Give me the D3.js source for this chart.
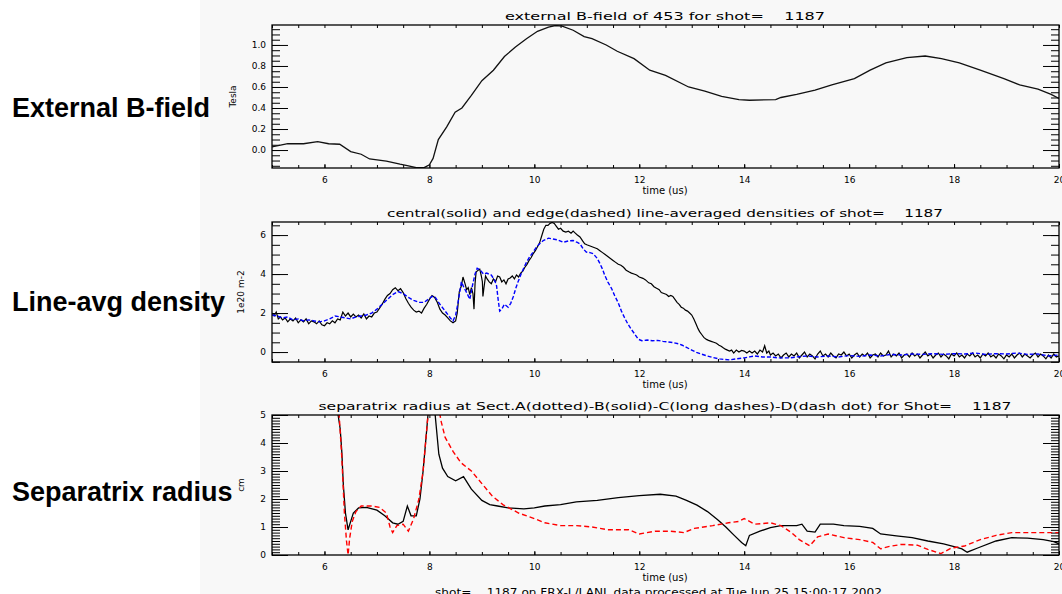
<!DOCTYPE html>
<html>
<head>
<meta charset="utf-8">
<script src="https://cdn.jsdelivr.net/npm/d3@7"></script>
<style>
  body { margin: 0; background: #fff; }
  svg text { font-family: "DejaVu Sans", sans-serif; white-space: pre; }
  .side { font-family: "Liberation Sans", Arial, sans-serif; font-weight: bold; font-size: 27px; }
</style>
</head>
<body>
<svg width="1062" height="594"></svg>
<script>
// ---- data ----
var timeTicks = [6, 8, 10, 12, 14, 16, 18, 20];
var sideLabels = ["External B-field", "Line-avg density", "Separatrix radius"];
var titles = [
  "external B-field of 453 for shot=    1187",
  "central(solid) and edge(dashed) line-averaged densities of shot=    1187",
  "separatrix radius at Sect.A(dotted)-B(solid)-C(long dashes)-D(dash dot) for Shot=    1187"
];
var footer = "shot=    1187 on FRX-L/LANL data processed at Tue Jun 25 15:00:17 2002";

// external B-field (Tesla)
var bField = [[5,0.03],[5.3,0.06],[5.6,0.06],[5.87,0.08],[6.08,0.06],[6.29,0.055],[6.5,-0.015],
  [6.7,-0.04],[6.86,-0.085],[7.18,-0.105],[7.44,-0.135],[7.6,-0.15],[7.75,-0.168],[7.9,-0.168],
  [8.0,-0.14],[8.07,-0.08],[8.17,0.1],[8.33,0.22],[8.49,0.36],[8.62,0.4],[8.8,0.52],[9.0,0.66],
  [9.22,0.76],[9.43,0.89],[9.64,0.98],[9.85,1.06],[10.06,1.13],[10.27,1.17],[10.4,1.185],[10.53,1.18],
  [10.74,1.14],[10.95,1.08],[11.1,1.06],[11.37,1.0],[11.58,0.94],[11.9,0.87],[12.2,0.76],[12.5,0.71],
  [12.94,0.6],[13.25,0.56],[13.57,0.51],[13.9,0.48],[14.1,0.474],[14.6,0.48],[14.7,0.5],[15.0,0.53],
  [15.35,0.57],[15.67,0.62],[16.1,0.68],[16.4,0.76],[16.7,0.83],[17.1,0.88],[17.45,0.895],[17.76,0.87],
  [18.1,0.83],[18.5,0.76],[18.95,0.68],[19.25,0.62],[19.6,0.58],[19.85,0.53],[20,0.49]];

// central line-averaged density (1e20 m-2), solid black
var densCentral = [[5,2.0],[5.04,1.85],[5.08,2.05],[5.12,1.7],[5.16,1.8],[5.2,1.65],[5.25,1.75],[5.3,1.55],
  [5.35,1.7],[5.4,1.6],[5.45,1.75],[5.5,1.5],[5.55,1.65],[5.6,1.55],[5.65,1.7],[5.7,1.45],[5.75,1.6],
  [5.8,1.55],[5.85,1.45],[5.9,1.6],[5.95,1.4],[6.0,1.35],[6.05,1.5],[6.1,1.45],[6.15,1.6],[6.2,1.5],
  [6.25,1.7],[6.3,1.65],[6.35,2.05],[6.4,1.85],[6.45,2.0],[6.5,1.8],[6.55,1.95],[6.6,1.8],[6.65,1.9],
  [6.7,1.75],[6.75,1.95],[6.8,1.7],[6.85,1.85],[6.9,1.8],[6.95,2.0],[7.0,2.05],[7.05,2.25],[7.1,2.45],
  [7.15,2.7],[7.2,2.9],[7.25,3.0],[7.3,3.2],[7.35,3.3],[7.4,3.15],[7.45,3.25],[7.5,3.05],[7.55,2.75],
  [7.6,2.5],[7.65,2.3],[7.7,2.15],[7.75,2.05],[7.8,2.1],[7.85,2.0],[7.9,2.25],[7.95,2.45],[8.0,2.7],
  [8.05,2.9],[8.1,2.8],[8.15,2.55],[8.2,2.2],[8.25,2.0],[8.3,1.9],[8.35,1.75],[8.4,1.6],[8.45,1.5],
  [8.5,1.6],[8.53,2.0],[8.57,3.1],[8.61,3.4],[8.64,3.85],[8.68,3.5],[8.71,3.2],[8.74,3.3],[8.77,2.95],
  [8.8,3.3],[8.83,3.0],[8.85,2.2],[8.87,3.5],[8.89,4.1],[8.93,4.2],[8.96,4.25],[8.99,3.9],[9.01,3.6],
  [9.02,2.85],[9.04,3.3],[9.07,3.9],[9.1,3.75],[9.14,3.6],[9.18,3.5],[9.22,3.75],[9.26,3.6],[9.3,3.9],
  [9.34,3.85],[9.38,3.6],[9.42,3.7],[9.46,3.5],[9.5,3.75],[9.54,3.8],[9.58,3.9],[9.62,3.75],[9.66,3.95],
  [9.7,3.85],[9.74,4.05],[9.78,4.15],[9.82,4.35],[9.86,4.5],[9.9,4.7],[9.94,4.85],[9.98,5.05],[10.02,5.2],
  [10.06,5.4],[10.1,5.6],[10.14,5.95],[10.18,6.3],[10.22,6.5],[10.26,6.5],[10.3,6.6],[10.34,6.65],
  [10.38,6.6],[10.42,6.45],[10.46,6.3],[10.5,6.35],[10.55,6.2],[10.6,6.15],[10.65,6.2],[10.7,6.1],
  [10.74,6.2],[10.78,6.1],[10.82,6.0],[10.87,5.9],[10.92,5.7],[10.96,5.55],[11.0,5.5],[11.05,5.45],
  [11.1,5.4],[11.15,5.35],[11.2,5.3],[11.25,5.2],[11.3,5.1],[11.35,5.0],[11.4,4.9],[11.45,4.8],[11.5,4.7],
  [11.55,4.6],[11.6,4.5],[11.65,4.45],[11.7,4.35],[11.75,4.2],[11.8,4.12],[11.85,4.05],[11.9,4.0],
  [11.95,3.95],[12.0,3.85],[12.07,3.78],[12.12,3.7],[12.18,3.55],[12.23,3.5],[12.28,3.35],[12.33,3.27],
  [12.38,3.2],[12.42,3.05],[12.47,3.0],[12.52,2.95],[12.56,2.85],[12.6,2.9],[12.64,2.85],[12.68,2.7],
  [12.72,2.55],[12.76,2.45],[12.8,2.3],[12.84,2.25],[12.88,2.15],[12.92,2.1],[12.96,2.0],[13.0,1.9],
  [13.04,1.7],[13.08,1.45],[13.12,1.2],[13.15,1.05],[13.19,0.9],[13.23,0.75],[13.28,0.65],[13.32,0.6],
  [13.37,0.55],[13.42,0.5],[13.47,0.45],[13.52,0.35],[13.56,0.3],[13.6,0.22],[13.64,0.15],[13.68,0.1],
  [13.72,0.05],[13.76,0.1],[13.8,-0.05],[13.85,0.1],[13.9,0.0],[13.95,0.08],[14.0,0.05],[14.05,-0.05],
  [14.1,0.05],[14.15,-0.05],[14.2,0.05],[14.25,-0.1],[14.3,0.1],[14.35,0.0],[14.39,0.32],[14.43,-0.05],
  [14.47,0.05],[14.5,-0.15],[14.55,-0.05],[14.6,-0.2],[14.65,-0.1],[14.7,-0.3],[14.75,-0.15],[14.8,-0.05],
  [14.85,-0.25],[14.9,-0.1],[14.95,-0.2],[15.0,-0.05],[15.05,-0.3],[15.1,-0.15],[15.15,0.0],[15.2,-0.25],
  [15.25,-0.1],[15.3,-0.2],[15.35,-0.35],[15.4,-0.1],[15.45,0.05],[15.5,-0.2],[15.55,-0.1],[15.6,-0.25],
  [15.65,-0.05],[15.7,-0.2],[15.75,-0.3],[15.8,-0.1],[15.85,-0.15],[15.9,0.0],[15.95,-0.2],[16.0,-0.1],
  [16.05,-0.3],[16.1,-0.15],[16.15,-0.05],[16.2,-0.25],[16.25,-0.1],[16.3,-0.2],[16.35,-0.05],[16.4,-0.3],
  [16.45,-0.15],[16.5,-0.1],[16.55,-0.25],[16.6,-0.05],[16.65,-0.2],[16.7,-0.15],[16.75,0.05],[16.8,-0.25],
  [16.85,-0.1],[16.9,-0.2],[16.95,-0.05],[17.0,-0.3],[17.05,-0.15],[17.1,-0.1],[17.15,-0.25],[17.2,-0.05],
  [17.25,-0.2],[17.3,-0.1],[17.35,-0.3],[17.4,-0.15],[17.45,0.0],[17.5,-0.2],[17.55,-0.1],[17.6,-0.3],
  [17.65,-0.15],[17.7,-0.05],[17.75,-0.25],[17.8,-0.1],[17.85,-0.2],[17.9,-0.35],[17.95,-0.1],[18.0,-0.2],
  [18.05,-0.05],[18.1,-0.25],[18.15,-0.15],[18.2,-0.3],[18.25,-0.1],[18.3,-0.2],[18.35,-0.05],[18.4,-0.25],
  [18.45,-0.15],[18.5,-0.3],[18.55,-0.1],[18.6,-0.2],[18.65,-0.05],[18.7,-0.25],[18.75,-0.15],[18.8,-0.3],
  [18.85,-0.1],[18.9,-0.2],[18.95,-0.35],[19.0,-0.15],[19.05,-0.25],[19.1,-0.1],[19.15,-0.3],[19.2,-0.15],
  [19.25,-0.05],[19.3,-0.25],[19.35,-0.1],[19.4,-0.2],[19.45,-0.3],[19.5,-0.15],[19.55,-0.05],[19.6,-0.25],
  [19.65,-0.1],[19.7,-0.2],[19.75,-0.35],[19.8,-0.15],[19.85,-0.3],[19.9,-0.1],[19.95,-0.25],[20.0,-0.2]];

// edge line-averaged density, dashed blue
var densEdge = [[5.0,1.9],[5.1,1.85],[5.2,1.75],[5.3,1.8],[5.4,1.65],[5.5,1.7],[5.6,1.6],[5.7,1.65],
  [5.8,1.6],[5.9,1.55],[6.0,1.6],[6.1,1.7],[6.2,1.85],[6.3,1.8],[6.4,1.75],[6.5,1.7],[6.6,1.8],[6.7,1.85],
  [6.8,1.9],[6.9,2.0],[7.0,2.2],[7.1,2.45],[7.2,2.7],[7.3,2.95],[7.4,3.1],[7.5,3.0],[7.6,2.8],[7.7,2.65],
  [7.8,2.55],[7.9,2.55],[8.0,2.75],[8.05,2.85],[8.1,2.85],[8.2,2.45],[8.3,2.1],[8.4,1.75],[8.45,1.6],
  [8.5,1.9],[8.54,2.45],[8.61,3.6],[8.66,3.3],[8.72,3.0],[8.77,2.7],[8.82,3.4],[8.87,4.0],[8.91,4.3],
  [8.97,4.2],[9.03,4.0],[9.09,4.05],[9.18,3.95],[9.24,3.7],[9.28,3.4],[9.31,2.7],[9.34,2.1],[9.38,2.2],
  [9.43,2.45],[9.5,2.3],[9.55,2.5],[9.6,2.85],[9.65,3.3],[9.69,3.6],[9.74,3.95],[9.78,4.2],[9.84,4.55],
  [9.91,4.88],[9.97,5.1],[10.04,5.38],[10.1,5.55],[10.17,5.72],[10.27,5.84],[10.35,5.8],[10.45,5.75],
  [10.55,5.63],[10.65,5.7],[10.74,5.72],[10.82,5.62],[10.87,5.55],[10.93,5.3],[10.99,5.13],[11.06,5.1],
  [11.12,5.05],[11.2,4.8],[11.25,4.54],[11.3,4.25],[11.34,3.95],[11.4,3.6],[11.47,3.27],[11.53,2.9],
  [11.6,2.52],[11.66,2.1],[11.72,1.76],[11.78,1.45],[11.85,1.16],[11.92,0.9],[11.98,0.66],[12.05,0.58],
  [12.15,0.62],[12.25,0.58],[12.35,0.6],[12.45,0.55],[12.55,0.52],[12.65,0.48],[12.75,0.42],[12.82,0.35],
  [12.9,0.24],[13.0,0.1],[13.09,-0.02],[13.18,-0.1],[13.28,-0.19],[13.4,-0.28],[13.53,-0.35],[13.62,-0.38],
  [13.72,-0.4],[13.85,-0.35],[14.0,-0.3],[14.1,-0.25],[14.2,-0.2],[14.35,-0.25],[14.5,-0.25],[14.65,-0.3],
  [14.87,-0.3],[15.0,-0.25],[15.2,-0.2],[15.4,-0.25],[15.6,-0.2],[15.8,-0.25],[16.0,-0.18],[16.2,-0.22],
  [16.4,-0.15],[16.6,-0.2],[16.8,-0.12],[17.0,-0.15],[17.2,-0.1],[17.4,-0.12],[17.6,-0.08],[17.8,-0.12],
  [18.0,-0.08],[18.2,-0.1],[18.4,-0.05],[18.6,-0.12],[18.8,-0.08],[19.0,-0.1],[19.2,-0.05],[19.4,-0.12],
  [19.6,-0.1],[19.8,-0.2],[20.0,-0.15]];

// separatrix radius (cm), sector B solid black
var sepB = [[6.2,6.5],[6.26,5.0],[6.3,4.5],[6.33,3.7],[6.36,2.5],[6.4,1.5],[6.45,0.9],[6.5,1.2],[6.55,1.5],
  [6.65,1.68],[6.8,1.7],[7.0,1.6],[7.15,1.4],[7.3,1.15],[7.4,1.1],[7.5,1.2],[7.58,1.75],[7.65,1.4],
  [7.75,1.4],[7.82,2.0],[7.88,3.0],[7.95,4.5],[8.0,5.6],[8.08,5.6],[8.13,4.6],[8.18,3.6],[8.25,3.1],
  [8.35,2.8],[8.5,2.65],[8.65,2.8],[8.8,2.35],[9.0,1.95],[9.15,1.8],[9.3,1.75],[9.5,1.68],[9.8,1.65],
  [10.0,1.68],[10.2,1.75],[10.5,1.8],[10.8,1.9],[11.2,1.95],[11.6,2.05],[12.0,2.12],[12.4,2.17],[12.7,2.1],
  [12.9,1.95],[13.1,1.78],[13.3,1.55],[13.5,1.25],[13.65,1.0],[13.8,0.72],[13.95,0.45],[14.03,0.33],
  [14.1,0.7],[14.3,0.85],[14.5,0.98],[14.7,1.05],[15.0,1.05],[15.1,1.1],[15.2,0.85],[15.35,0.82],
  [15.45,1.1],[15.7,1.1],[15.9,1.05],[16.2,1.02],[16.45,0.95],[16.6,0.75],[16.9,0.68],[17.2,0.62],
  [17.5,0.5],[17.8,0.4],[18.0,0.3],[18.15,0.22],[18.25,0.1],[18.45,0.25],[18.8,0.5],[19.1,0.62],
  [19.4,0.6],[19.7,0.55],[19.9,0.48],[20.0,0.4]];

// separatrix radius, dashed red
var sepC = [[6.2,6.5],[6.28,5.0],[6.33,3.5],[6.38,1.5],[6.42,0.5],[6.45,0.0],[6.48,0.6],[6.53,1.2],
  [6.6,1.55],[6.7,1.75],[6.9,1.75],[7.05,1.7],[7.18,1.5],[7.25,1.0],[7.3,0.8],[7.38,1.05],[7.5,1.1],
  [7.6,0.85],[7.7,1.3],[7.8,2.0],[7.88,3.0],[7.95,4.5],[8.0,5.6],[8.15,5.6],[8.22,4.8],[8.3,4.2],
  [8.45,3.7],[8.6,3.3],[8.8,3.0],[9.0,2.55],[9.2,2.1],[9.4,1.8],[9.7,1.5],[10.0,1.3],[10.2,1.15],
  [10.5,1.05],[10.8,1.05],[11.1,1.0],[11.4,0.9],[11.8,0.9],[12.0,0.75],[12.3,0.85],[12.6,0.85],
  [12.85,0.8],[13.05,0.95],[13.4,1.05],[13.7,1.15],[13.9,1.2],[14.0,1.3],[14.2,1.1],[14.5,1.15],
  [14.7,1.05],[14.9,0.8],[15.05,0.55],[15.25,0.33],[15.4,0.65],[15.6,0.75],[15.9,0.62],[16.2,0.55],
  [16.45,0.45],[16.6,0.22],[16.75,0.3],[17.0,0.38],[17.3,0.35],[17.5,0.2],[17.75,0.05],[17.95,0.25],
  [18.2,0.32],[18.5,0.55],[18.8,0.7],[19.1,0.8],[19.5,0.8],[20.0,0.8]];

var bTicks = [0, 0.2, 0.4, 0.6, 0.8, 1.0];
var densTicks = [0, 2, 4, 6];
var sepTicks = [0, 1, 2, 3, 4, 5];

// ---- drawing ----
var svg = d3.select("svg");
svg.append("rect").attr("x", 200).attr("y", 0).attr("width", 862).attr("height", 594).attr("fill", "#f8f8f8");

var x = d3.scaleLinear().domain([5, 20]).range([272, 1059]);
var xMinor = d3.range(5, 20.01, 0.5);

var panels = [
  { top: 25, bottom: 168, dom: [-0.171, 1.19], major: bTicks, fmt: d3.format(".1f"),
    minor: d3.range(-0.15, 1.19, 0.05), ylabel: "Tesla", ylx: 236, titleW: 320,
    series: [{ data: bField, color: "#111", width: 1.3, dash: null }] },
  { top: 222, bottom: 362, dom: [-0.51, 6.67], major: densTicks, fmt: d3.format("d"),
    minor: d3.range(-0.5, 6.6, 0.5), ylabel: "1e20 m-2", ylx: 244, titleW: 556,
    series: [{ data: densCentral, color: "#000", width: 1.2, dash: null },
             { data: densEdge, color: "#0000ff", width: 1.4, dash: "4,2" }] },
  { top: 415, bottom: 555, dom: [0, 5], major: sepTicks, fmt: d3.format("d"),
    minor: d3.range(0, 5.01, 0.1), ylabel: "cm", ylx: 244, titleW: 693,
    series: [{ data: sepB, color: "#000", width: 1.3, dash: null },
             { data: sepC, color: "#ff0000", width: 1.4, dash: "5,3" }] }
];
var sideY = [117, 311, 501];

panels.forEach(function(p, i) {
  var y = d3.scaleLinear().domain(p.dom).range([p.bottom, p.top]);
  var g = svg.append("g");

  g.append("clipPath").attr("id", "clip" + i)
    .append("rect").attr("x", 272).attr("y", p.top).attr("width", 787).attr("height", p.bottom - p.top);

  // ticks (IDL style, inward, on all four sides)
  function styleAxis(sel) {
    sel.select(".domain").remove();
    sel.selectAll("line").attr("stroke", "#000");
    sel.selectAll("text").attr("font-size", 9).attr("fill", "#000");
  }
  g.append("g").attr("transform", "translate(272,0)")
    .call(d3.axisLeft(y).tickValues(p.minor).tickSizeInner(-8).tickSizeOuter(0).tickFormat("")).call(styleAxis);
  g.append("g").attr("transform", "translate(272,0)")
    .call(d3.axisLeft(y).tickValues(p.major).tickSizeInner(-16).tickSizeOuter(0).tickPadding(6).tickFormat(p.fmt)).call(styleAxis);
  g.append("g").attr("transform", "translate(1059,0)")
    .call(d3.axisRight(y).tickValues(p.minor).tickSizeInner(-8).tickSizeOuter(0).tickFormat("")).call(styleAxis);
  g.append("g").attr("transform", "translate(1059,0)")
    .call(d3.axisRight(y).tickValues(p.major).tickSizeInner(-16).tickSizeOuter(0).tickFormat("")).call(styleAxis);
  g.append("g").attr("transform", "translate(0," + p.bottom + ")")
    .call(d3.axisBottom(x).tickValues(xMinor).tickSizeInner(-3).tickSizeOuter(0).tickFormat("")).call(styleAxis);
  g.append("g").attr("transform", "translate(0," + p.bottom + ")")
    .call(d3.axisBottom(x).tickValues(timeTicks).tickSizeInner(-4).tickSizeOuter(0).tickPadding(9).tickFormat(d3.format("d"))).call(styleAxis);
  g.append("g").attr("transform", "translate(0," + p.top + ")")
    .call(d3.axisTop(x).tickValues(xMinor).tickSizeInner(-3).tickSizeOuter(0).tickFormat("")).call(styleAxis);

  // curves
  var line = d3.line().x(function(d) { return x(d[0]); }).y(function(d) { return y(d[1]); });
  p.series.forEach(function(s) {
    g.append("path").datum(s.data)
      .attr("clip-path", "url(#clip" + i + ")")
      .attr("d", line)
      .attr("fill", "none")
      .attr("stroke", s.color)
      .attr("stroke-width", s.width)
      .attr("stroke-dasharray", s.dash);
  });

  // frame
  g.append("rect").attr("x", 272).attr("y", p.top).attr("width", 787).attr("height", p.bottom - p.top)
    .attr("fill", "none").attr("stroke", "#000").attr("stroke-width", 1.3);

  // texts
  g.append("text").attr("x", 665).attr("y", p.top - 5).attr("text-anchor", "middle")
    .attr("font-size", 10).attr("textLength", p.titleW).attr("lengthAdjust", "spacingAndGlyphs")
    .text(titles[i]);
  g.append("text").attr("x", 665).attr("y", p.bottom + 26).attr("text-anchor", "middle")
    .attr("font-size", 10).text("time (us)");
  g.append("text")
    .attr("transform", "translate(" + p.ylx + "," + ((p.top + p.bottom) / 2) + ") rotate(-90)")
    .attr("text-anchor", "middle").attr("font-size", 9).text(p.ylabel);

  svg.append("text").attr("class", "side").attr("x", 12).attr("y", sideY[i]).text(sideLabels[i]);
});

svg.append("text").attr("x", 435).attr("y", 596).attr("font-size", 10)
  .attr("textLength", 447).attr("lengthAdjust", "spacingAndGlyphs").text(footer);
</script>
</body>
</html>
